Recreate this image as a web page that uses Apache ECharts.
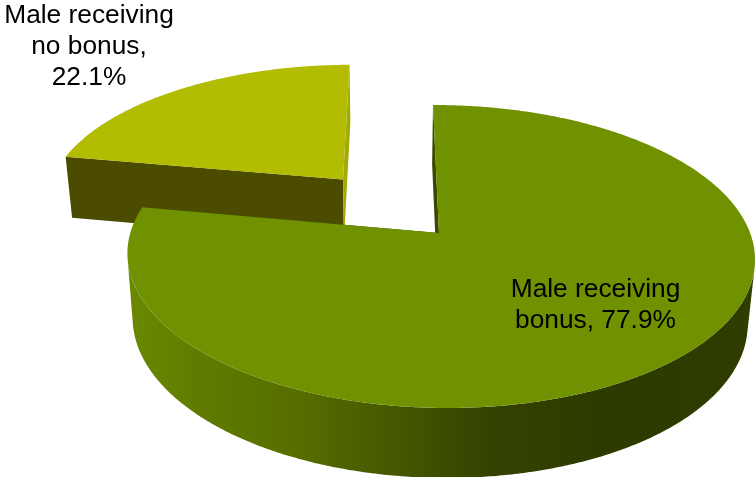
<!DOCTYPE html>
<html>
<head>
<meta charset="utf-8">
<style>html,body{margin:0;padding:0;background:#fff}#chart{width:756px;height:477px}</style>
<script src="https://cdn.jsdelivr.net/npm/echarts@6/dist/echarts.min.js"></script>
</head>
<body>
<div id="chart"></div>
<script>
// Share of male employees by bonus status
const categories = ['Male receiving bonus', 'Male receiving no bonus'];
const shares = [77.9, 22.1];
const labelLines = [['Male receiving', 'bonus, {v}%'], ['Male receiving', 'no bonus,', '{v}%']];

// Perspective view of the pie disc
const view = { cx: 439, cy: 233, f: 310, g: 147.8, k: 0.155, m: -0.007, tilt: 3 };
// The underside of the disc is a slightly smaller, lower copy of the top
const under = { shrink: 0.98, shift: -1, a: 55.4, b: 1.0357 };
const startAngle = -1.28;
const explode = [0, 0.5];

const topColors = ['#709100', '#b2bc00'];
const startEdgeColors = ['#3a4800', '#4b4c00'];
const endEdgeColors = ['#3a4800', '#a3aa00'];
const labelCenters = [[595.5, 305], [89, 47]];

function project(u, v, lower) {
  const w = 1 + view.k * v + view.m * u;
  const x = view.cx + view.f * u / w;
  const y = view.cy + (view.tilt * u - view.g * v) / w;
  if (!lower) return [x, y];
  return [view.cx + (x - view.cx) * under.shrink + under.shift, under.a + under.b * y];
}

function sliceGeometry(index) {
  const total = shares.reduce((s, d) => s + d, 0);
  const before = shares.slice(0, index).reduce((s, d) => s + d, 0);
  const a0 = startAngle + before / total * 360;
  const a1 = a0 + shares[index] / total * 360;
  const mid = (a0 + a1) / 2 * Math.PI / 180;
  return {
    a0, a1,
    du: Math.sin(mid) * explode[index],
    dv: Math.cos(mid) * explode[index]
  };
}

function arc(geo, lower) {
  const pts = [];
  const n = Math.ceil((geo.a1 - geo.a0) * 2);
  for (let i = 0; i <= n; i++) {
    const t = (geo.a0 + (geo.a1 - geo.a0) * i / n) * Math.PI / 180;
    pts.push(project(Math.sin(t) + geo.du, Math.cos(t) + geo.dv, lower));
  }
  return pts;
}

function polygon(points, fill, z2) {
  return { type: 'polygon', z2, shape: { points }, style: { fill, stroke: null } };
}

function rimGradient() {
  return new echarts.graphic.LinearGradient(127, 0, 755, 0, [
    { offset: 0, color: '#6a8900' },
    { offset: 0.12, color: '#5f7b00' },
    { offset: 0.27, color: '#566e00' },
    { offset: 0.43, color: '#455700' },
    { offset: 0.58, color: '#344200' },
    { offset: 0.78, color: '#2d3a00' },
    { offset: 1, color: '#2f3d00' }
  ], true);
}

// Outer wall: only the stretch of arc that faces the viewer, so its silhouette
// runs straight from the top rim to the bottom rim at the widest points.
function frontWall(topArc, lowArc) {
  const front = [];
  for (let i = 0; i + 1 < topArc.length; i++) {
    const ex = topArc[i + 1][0] - topArc[i][0];
    const ey = topArc[i + 1][1] - topArc[i][1];
    const hx = lowArc[i][0] - topArc[i][0];
    const hy = lowArc[i][1] - topArc[i][1];
    if (ex * hy - ey * hx < 0) front.push(i);
  }
  if (!front.length) return null;
  const a = front[0], b = front[front.length - 1] + 1;
  return topArc.slice(a, b + 1).concat(lowArc.slice(a, b + 1).reverse());
}

function renderSlice(params, api) {
  const i = params.dataIndex;
  const layer = i === 0 ? 10 : 0;
  const geo = sliceGeometry(i);
  const topArc = arc(geo, false);
  const lowArc = arc(geo, true);
  const apexTop = project(geo.du, geo.dv, false);
  const apexLow = project(geo.du, geo.dv, true);
  const last = topArc.length - 1;
  const lines = labelLines[i].map(s => s.replace('{v}', api.value(1).toFixed(1)));
  const children = [
    polygon([topArc[0], apexTop, apexLow, lowArc[0]], startEdgeColors[i], layer + 1),
    polygon([topArc[last], apexTop, apexLow, lowArc[last]], endEdgeColors[i], layer + 1),
    polygon(topArc.concat([apexTop]), topColors[i], layer + 3),
    {
      type: 'text', z2: 30,
      style: {
        x: labelCenters[i][0], y: labelCenters[i][1],
        text: lines.join('\n'),
        align: 'center', verticalAlign: 'middle',
        font: '26.3px "Liberation Sans", Arial, sans-serif',
        lineHeight: 31, fill: '#000'
      }
    }
  ];
  const wall = frontWall(topArc, lowArc);
  if (wall) children.push(polygon(wall, rimGradient(), layer + 2));
  return { type: 'group', children };
}

const chart = echarts.init(document.getElementById('chart'), null, { renderer: 'canvas' });
chart.setOption({
  animation: false,
  backgroundColor: '#fff',
  series: [{
    type: 'custom',
    coordinateSystem: 'none',
    renderItem: renderSlice,
    data: categories.map((name, i) => ({ name, value: [i, shares[i]] }))
  }]
});
</script>
</body>
</html>
